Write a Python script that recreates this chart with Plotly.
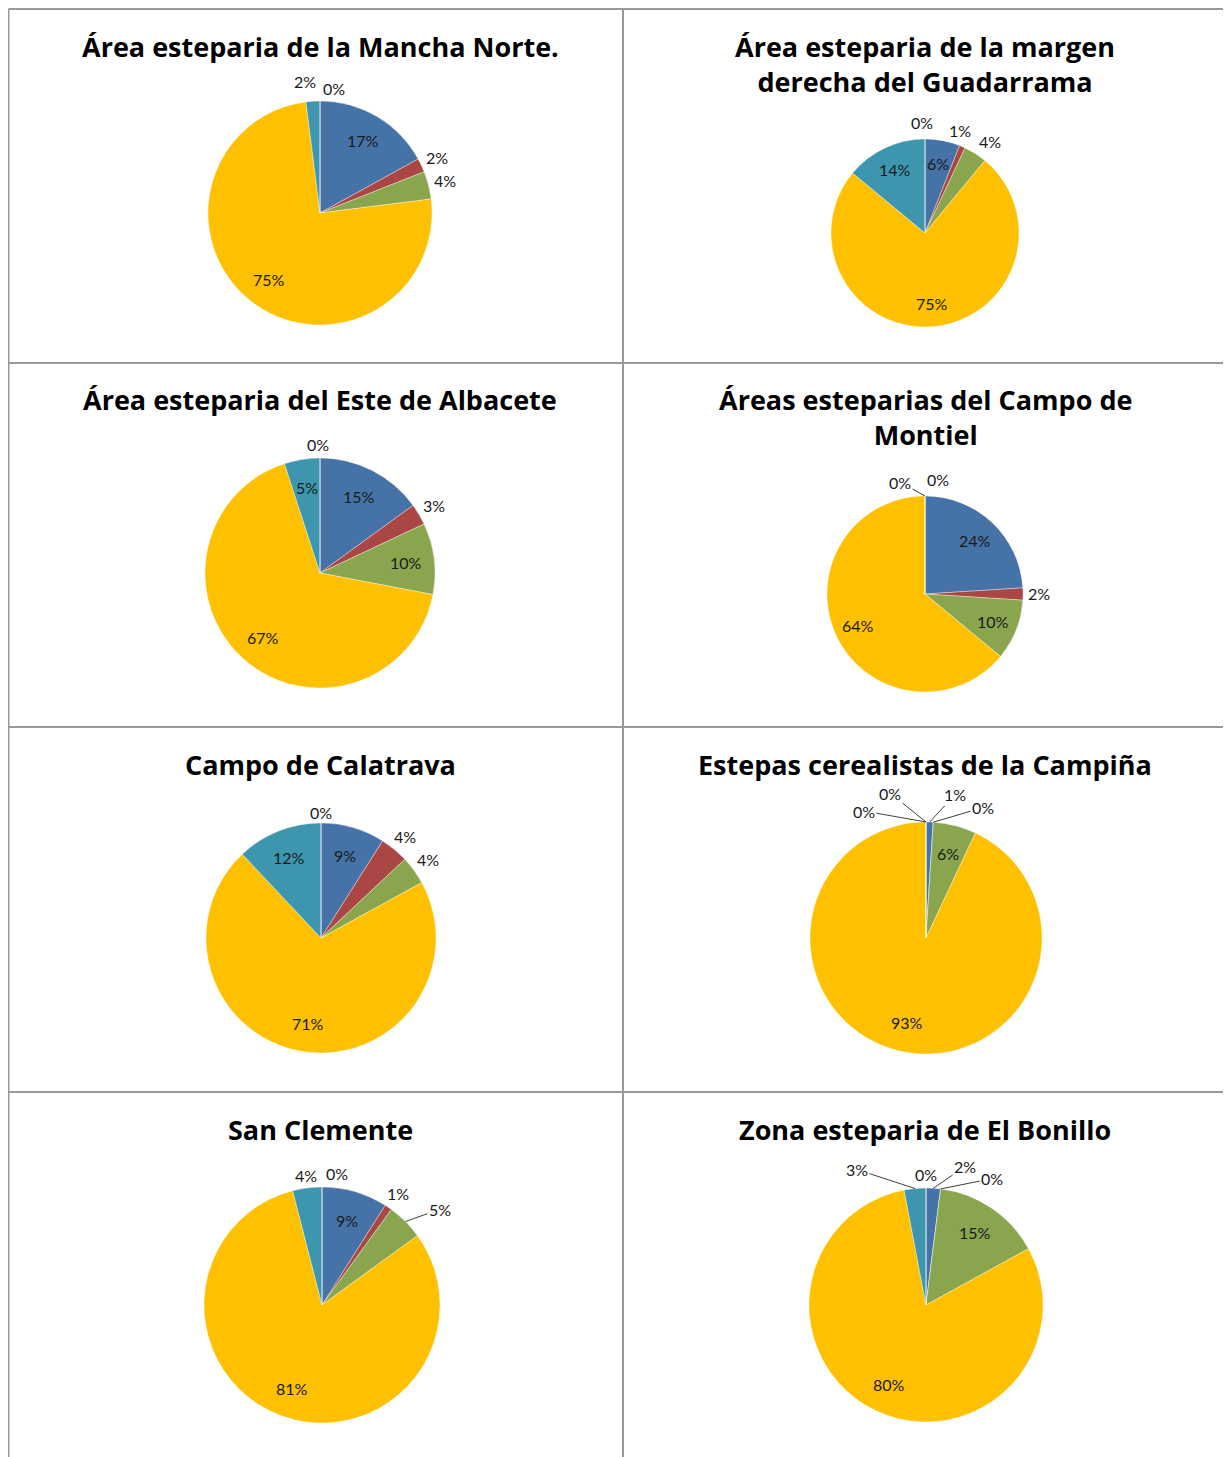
import math
import plotly.graph_objects as go

# Land-use categories (same order in every pie, clockwise from 12 o'clock)
categories = ["Categoría 1", "Categoría 2", "Categoría 3", "Categoría 4", "Categoría 5", "Categoría 6"]

titles = [
    "Área esteparia de la Mancha Norte.",
    "Área esteparia de la margen<br>derecha del Guadarrama",
    "Área esteparia del Este de Albacete",
    "Áreas esteparias del Campo de<br>Montiel",
    "Campo de Calatrava",
    "Estepas cerealistas de la Campiña",
    "San Clemente",
    "Zona esteparia de El Bonillo",
]

# percentages per area
mancha_norte = [17, 2, 4, 75, 2, 0]
guadarrama = [6, 1, 4, 75, 14, 0]
albacete = [15, 3, 10, 67, 5, 0]
montiel = [24, 2, 10, 64, 0, 0]
calatrava = [9, 4, 4, 71, 12, 0]
campina = [1, 0, 6, 93, 0, 0]
san_clemente = [9, 1, 5, 81, 4, 0]
bonillo = [2, 0, 15, 80, 3, 0]

series = [mancha_norte, guadarrama, albacete, montiel, calatrava, campina, san_clemente, bonillo]

colors = ["#4572A7", "#AA4643", "#89A54E", "#FFC000", "#3D96AE", "#DB843D"]

# page has an 8px body margin, figure starts at (8, 8)
OFF = 8
W, H = 1231 - OFF, 1457 - OFF


def px(x):
    return (x - OFF) / W


def py(y):
    return 1 - (y - OFF) / H


# pie centre (page px) and radius (px) for each panel
centres = [(320, 213), (925, 233), (320, 573), (925, 594),
           (321, 938), (926, 938), (322, 1305), (926, 1305)]
radii = [112, 94, 115, 98, 115, 116, 118, 117]
# labels of slices at least this big go inside
inside_min = [5, 5, 5, 5, 5, 5, 6, 5]
# hand nudges for crowded outside labels: (panel, slice) -> (dx, dy, leader line)
nudges = {
    (0, 4): (-7, -8, False), (0, 5): (14, -2, False),
    (1, 1): (-8, -2, False), (1, 2): (6, 2, False), (1, 5): (-3, -5, False),
    (2, 5): (-2, -3, False),
    (3, 4): (-25, -3, True), (3, 5): (13, -5, False),
    (5, 0): (25, -16, True), (5, 1): (49, -3, True),
    (5, 4): (-36, -18, True), (5, 5): (-62, 0, True),
    (6, 2): (22, 0, True), (6, 5): (15, -3, False),
    (7, 0): (31, -10, True), (7, 1): (50, 2, True),
    (7, 4): (-57, -7, True), (7, 5): (0, -3, False),
}

title_x = [320, 925, 320, 925, 320, 925, 320, 925]
title_y = [45, 45, 398, 398, 763, 763, 1128, 1128]

label_font = dict(family="Lato", size=16, color="#1a1a1a")

fig = go.Figure()
annotations = []
for i, vals in enumerate(series):
    cx, cy = centres[i]
    r = radii[i]
    fig.add_trace(go.Pie(
        labels=categories,
        values=vals,
        sort=False,
        direction="clockwise",
        rotation=0,
        marker=dict(colors=colors, line=dict(color="rgba(255,255,255,0.6)", width=0.6)),
        textinfo="none",
        domain=dict(x=[px(cx - r), px(cx + r)], y=[py(cy + r), py(cy - r)]),
        showlegend=False,
        hoverinfo="label+value",
    ))

    # data labels placed at each slice's mid angle
    total = sum(vals)
    cum = 0
    for j, v in enumerate(vals):
        theta = math.radians(360 * (cum + v / 2) / total)
        cum += v
        s, c = math.sin(theta), math.cos(theta)
        text = "%d%%" % v
        if v >= inside_min[i]:
            d = 0.75 * r
            annotations.append(dict(
                text=text, x=px(cx + d * s), y=py(cy - d * c), xref="paper", yref="paper",
                xanchor="center", yanchor="middle", showarrow=False, font=label_font))
            continue
        d = r + 4 + 12 * abs(s) + 7 * abs(c)
        lx, ly = cx + d * s, cy - d * c
        dx, dy, leader = nudges.get((i, j), (0, 0, False))
        lx += dx
        ly += dy
        if leader:
            ex, ey = cx + r * s, cy - r * c
            annotations.append(dict(
                text=text, x=px(ex), y=py(ey), xref="paper", yref="paper",
                ax=lx - ex, ay=ly - ey, showarrow=True, arrowhead=0, arrowwidth=1,
                arrowcolor="#404040", standoff=0, xanchor="center", yanchor="middle",
                font=label_font))
        else:
            annotations.append(dict(
                text=text, x=px(lx), y=py(ly), xref="paper", yref="paper",
                xanchor="center", yanchor="middle", showarrow=False, font=label_font))

for i, t in enumerate(titles):
    annotations.append(dict(
        text="<b>" + t + "</b>", x=px(title_x[i]), y=py(title_y[i] - 19),
        xref="paper", yref="paper", xanchor="center", yanchor="top",
        showarrow=False, font=dict(family="Open Sans", size=27, color="#000000"),
    ))

# grid of panel borders
line_style = dict(color="#999999", width=2)
shapes = []
for x in [8.5, 623, 1227]:
    shapes.append(dict(type="line", xref="paper", yref="paper",
                       x0=px(x), x1=px(x), y0=0, y1=py(9), line=line_style))
for y in [9, 363, 727, 1092]:
    shapes.append(dict(type="line", xref="paper", yref="paper",
                       x0=px(8.5), x1=px(1227), y0=py(y), y1=py(y), line=line_style))

fig.update_layout(
    width=W, height=H,
    margin=dict(l=0, r=0, t=0, b=0),
    paper_bgcolor="white",
    annotations=annotations,
    shapes=shapes,
)

fig.write_html("out.html")
